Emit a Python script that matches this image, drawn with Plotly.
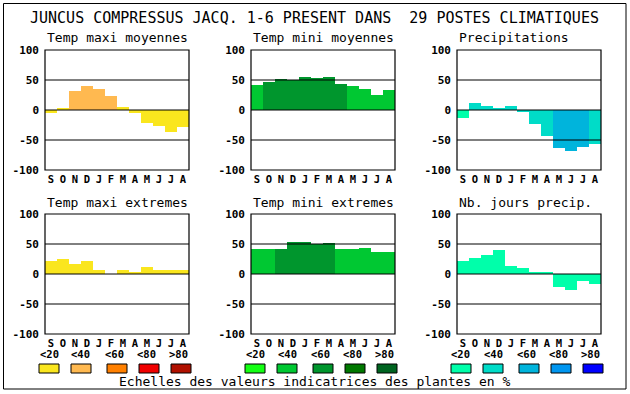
import plotly.graph_objects as go

W, H = 630, 394

title_text = "JUNCUS COMPRESSUS JACQ. 1-6 PRESENT DANS  29 POSTES CLIMATIQUES"
footer_text = "Echelles des valeurs indicatrices des plantes en %"
months = ["S", "O", "N", "D", "J", "F", "M", "A", "M", "J", "J", "A"]
y_ticks = [-100, -50, 0, 50, 100]
legend_labels = ["<20", "<40", "<60", "<80", ">80"]

panel_titles = ["Temp maxi moyennes", "Temp mini moyennes", "Precipitations",
                "Temp maxi extremes", "Temp mini extremes", "Nb. jours precip."]

tmax_moy = [-5, 3, 32, 40, 35, 23, 5, -5, -21, -26, -36, -28]
tmax_moy_cls = [0, 0, 1, 1, 1, 1, 0, 0, 0, 0, 0, 0]
tmin_moy = [42, 47, 52, 50, 55, 53, 55, 43, 40, 35, 25, 33]
tmin_moy_cls = [1, 2, 2, 2, 2, 2, 2, 2, 1, 1, 1, 1]
precip = [-13, 12, 7, 3, 7, -4, -24, -43, -63, -68, -61, -56]
precip_cls = [0, 1, 1, 1, 1, 1, 1, 1, 2, 2, 2, 1]
tmax_ext = [22, 25, 17, 22, 7, 0, 7, 4, 12, 7, 7, 7]
tmax_ext_cls = [0, 0, 0, 0, 0, 0, 0, 0, 0, 0, 0, 0]
tmin_ext = [42, 42, 42, 53, 53, 50, 52, 42, 42, 43, 37, 37]
tmin_ext_cls = [1, 1, 2, 2, 2, 2, 2, 1, 1, 1, 1, 1]
jours = [22, 27, 32, 40, 13, 10, 2, 3, -22, -26, -12, -17]
jours_cls = [0, 0, 0, 0, 0, 0, 0, 0, 0, 0, 0, 0]

pal_warm = ["#FAE61E", "#FFB950", "#FF8000", "#F00000", "#B01000"]
pal_green = ["#14FF14", "#00C832", "#00962D", "#007800", "#006420"]
pal_blue = ["#00FFAA", "#00DCC8", "#00B4DC", "#0096F0", "#0000FF"]

series = [(tmax_moy, tmax_moy_cls, pal_warm), (tmin_moy, tmin_moy_cls, pal_green),
          (precip, precip_cls, pal_blue), (tmax_ext, tmax_ext_cls, pal_warm),
          (tmin_ext, tmin_ext_cls, pal_green), (jours, jours_cls, pal_blue)]


def px(x):
    return x / W


def py(y):
    return 1 - y / H


FONT = "DejaVu Sans Mono"
lefts = [45, 251, 457]
pw = 144
rows = [(50, 170), (214, 334)]

fig = go.Figure()
shapes = []
annotations = []

for i, (vals, cls, pal) in enumerate(series):
    r, c = divmod(i, 3)
    n = i + 1
    xa = "x" if n == 1 else f"x{n}"
    ya = "y" if n == 1 else f"y{n}"
    fig.add_trace(go.Bar(
        x=list(range(len(vals))), y=vals,
        marker=dict(color=[pal[k] for k in cls], line=dict(width=0)),
        width=1.0, xaxis=xa, yaxis=ya, showlegend=False, hoverinfo="skip"))
    top, bot = rows[r]
    x0, x1 = lefts[c], lefts[c] + pw
    xkey = "xaxis" if n == 1 else f"xaxis{n}"
    ykey = "yaxis" if n == 1 else f"yaxis{n}"
    fig.layout[xkey] = dict(
        domain=[px(x0), px(x1)], anchor=ya, range=[-0.5, 11.5], automargin=False,
        tickvals=list(range(12)), ticktext=months, showgrid=False, zeroline=False,
        showline=False, ticks="", ticklabelstandoff=1,
        tickfont=dict(family=FONT, size=10.5, color="black", weight="bold"))
    fig.layout[ykey] = dict(
        domain=[py(bot), py(top)], anchor=xa, range=[-100, 100], automargin=False,
        tickvals=y_ticks, ticktext=[str(v) for v in y_ticks], showgrid=False,
        zeroline=False, showline=False, ticks="", ticklabelstandoff=5,
        tickfont=dict(family=FONT, size=11, color="black", weight="bold"))
    xd = f"{xa} domain"
    for gv in [-50, 0, 50]:
        shapes.append(dict(type="line", xref=xd, yref=ya, x0=0, x1=1, y0=gv, y1=gv,
                           line=dict(color="black", width=1), layer="above"))
    shapes.append(dict(type="rect", xref="paper", yref="paper",
                       x0=px(x0), x1=px(x1), y0=py(bot), y1=py(top),
                       line=dict(color="black", width=1.2), layer="above"))
    annotations.append(dict(text=panel_titles[i], xref="paper", yref="paper",
                            x=px(x0), y=py(top - 12), xanchor="left", yanchor="middle",
                            showarrow=False,
                            font=dict(family=FONT, size=13, color="black")))

# legend swatches
sw_off = [-6, 26, 62, 94, 126]
lab_off = [4, 36, 69, 101, 133]
for c, pal in enumerate([pal_warm, pal_green, pal_blue]):
    L = lefts[c]
    for k in range(5):
        shapes.append(dict(type="rect", xref="paper", yref="paper",
                           x0=px(L + sw_off[k]), x1=px(L + sw_off[k] + 20),
                           y0=py(373), y1=py(364), fillcolor=pal[k],
                           line=dict(color="black", width=1)))
        annotations.append(dict(text=legend_labels[k], xref="paper", yref="paper",
                                x=px(L + lab_off[k]), y=py(354), xanchor="center",
                                yanchor="middle", showarrow=False,
                                font=dict(family=FONT, size=10.5, color="black",
                                          weight="bold")))

annotations.append(dict(text=title_text, xref="paper", yref="paper", x=px(314.5), y=py(18),
                        xanchor="center", yanchor="middle", showarrow=False,
                        font=dict(family=FONT, size=15, color="black")))
annotations.append(dict(text=footer_text, xref="paper", yref="paper", x=px(314.5), y=py(381),
                        xanchor="center", yanchor="middle", showarrow=False,
                        font=dict(family=FONT, size=13, color="black")))

shapes.append(dict(type="rect", xref="paper", yref="paper", x0=px(3.5), x1=px(626),
                   y0=py(389), y1=py(3.5), line=dict(color="black", width=1)))

fig.update_layout(template="none", width=W, height=H, margin=dict(l=0, r=0, t=0, b=0, pad=0),
                  paper_bgcolor="white", plot_bgcolor="white", bargap=0,
                  shapes=shapes, annotations=annotations)

fig.write_html(
    "out.html",
    config={"displayModeBar": False, "responsive": False},
    post_script=("document.documentElement.style.margin='0';"
                 "document.body.style.margin='0';document.body.style.padding='0';"
                 "document.documentElement.style.overflow='hidden';"
                 "document.body.style.overflow='hidden';"))
